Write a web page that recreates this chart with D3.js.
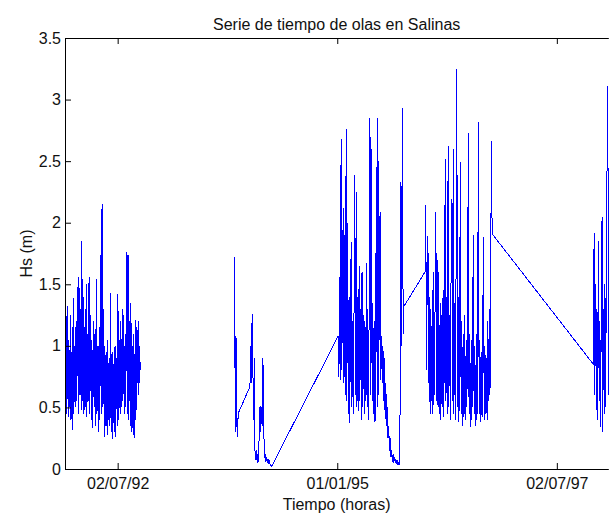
<!DOCTYPE html>
<html>
<head>
<meta charset="utf-8">
<script src="https://cdn.jsdelivr.net/npm/d3@7"></script>
<style>
body { margin: 0; background: #fff; }
svg text { font-family: "Liberation Sans", Arial, Helvetica, sans-serif; }
</style>
</head>
<body>
<div id="chart"></div>
<script>
var width = 609, height = 513;
// note: "top" is taken by window.top, so plot edges get their own names
var plotLeft = 65, plotRight = 608.3, plotTop = 38, plotBottom = 469;

// axis ticks
var tickDates = ["1992-07-02", "1995-01-01", "1997-07-02"];
var yTicks = [0, 0.5, 1, 1.5, 2, 2.5, 3, 3.5];
var xStart = "1991-11-26", xEnd = "1998-02-01";

// wave height blocks: first date, then one Hs value every stepDays
var stepDays = 3;

var seg1Start = "1991-11-27";
var seg1 = [0.80,1.30,0.45,1.32,0.42,1.05,0.50,1.25,0.40,0.95,
  0.32,1.39,0.45,1.00,0.50,1.20,0.55,1.48,0.45,1.56,
  0.60,1.30,0.48,1.85,0.55,1.40,0.45,1.15,0.50,1.50,
  0.42,1.10,0.55,1.56,0.45,1.25,0.40,1.05,0.33,1.20,
  0.50,1.10,0.35,1.54,0.45,1.00,0.30,1.15,0.40,1.74,
  0.45,2.15,0.50,1.30,0.26,1.00,0.35,0.95,0.28,1.05,
  0.40,0.90,0.35,1.43,0.30,0.95,0.24,0.85,0.30,1.00,
  0.26,0.90,0.35,1.42,0.40,1.05,0.45,1.20,0.50,1.30,
  0.55,1.25,0.45,1.10,0.50,1.76,0.45,1.74,0.40,1.20,
  0.35,1.35,0.30,1.00,0.28,1.10,0.25,1.21,0.40,1.15,
  0.70,1.20,0.60,1.00,0.80];

var seg2aStart = "1993-10-31";
var seg2a = [1.72,0.30,1.08,0.40,0.26,0.45];

var seg2bStart = "1994-01-03";
var seg2b = [0.67,1.00,0.70,1.26,0.85,0.40,0.90,0.15,0.07,0.15,
  0.05,0.12,0.06,0.35,0.51,0.30,0.50,0.35,0.90,0.40,
  0.09,0.12,0.06,0.10,0.05,0.08,0.05,0.06,0.04,0.03,0.02];

var seg3Start = "1995-01-05";
var seg3 = [1.08,0.75,1.56,0.72,2.68,0.80,1.60,2.12,0.70,1.90,
  0.60,2.76,0.55,2.00,0.45,1.40,0.37,1.30,1.84,0.50,
  1.20,0.45,1.35,2.39,0.60,2.25,0.50,1.40,0.47,1.65,
  0.55,1.30,0.40,1.60,0.50,1.25,0.45,1.20,0.55,1.67,
  0.50,1.30,0.40,1.45,2.85,0.60,2.60,0.55,1.35,0.45,
  1.20,0.38,1.30,2.45,0.50,2.85,0.60,1.40,2.09,0.72,
  1.08,0.70,1.00,0.55,0.90,0.41,0.70,0.35,0.50,0.25,
  0.35,0.15,0.25,0.10,0.15,0.06,0.12,0.05,0.10,0.05,
  0.08,0.04,0.07,0.03,0.05,0.03,0.64,2.33,1.00,2.93,
  1.10,1.32];

var seg4Start = "1996-01-01";
var seg4 = [1.60,2.14,0.80,1.50,1.89,0.70,1.40,0.45,1.30,0.55,
  1.45,0.45,1.60,0.60,1.40,2.09,0.55,1.70,0.50,1.60,
  0.45,1.35,0.40,1.25,0.50,1.45,0.42,1.30,2.52,0.55,
  1.40,0.45,2.62,0.50,1.25,0.40,1.50,2.19,0.55,2.60,
  0.45,1.35,0.40,1.60,3.25,0.50,1.40,0.38,1.30,2.49,
  0.45,1.20,0.35,1.10,0.42,1.25,0.40,1.05,0.50,1.30,
  2.73,0.45,1.10,0.34,1.05,0.40,1.20,1.90,0.45,1.00,
  0.35,1.10,0.40,1.25,2.82,0.45,1.05,0.38,0.95,0.42,
  1.15,1.88,0.40,1.00,0.45,0.90,0.40,1.20,0.55,1.30,
  0.60,1.60,2.66,1.91];

var seg5Start = "1997-12-01";
var seg5 = [0.85,1.92,0.60,1.50,0.48,1.30,0.40,1.85,0.55,1.20,
  0.34,1.40,2.05,0.30,1.30,0.45,1.50,0.50,1.70,2.51,
  3.11,0.60,1.60,0.50,1.40];

function block(start, values) {
  var t0 = new Date(start + "T00:00:00Z");
  return values.map(function(v, i) {
    return {date: d3.utcDay.offset(t0, i * stepDays), hs: v};
  });
}

// first block stands alone, the rest were joined by straight lines
var pieces = [
  block(seg1Start, seg1),
  [].concat(block(seg2aStart, seg2a), block(seg2bStart, seg2b),
    block(seg3Start, seg3), block(seg4Start, seg4), block(seg5Start, seg5))
];

var svg = d3.select("#chart").append("svg")
    .attr("width", width)
    .attr("height", height);

var x = d3.scaleUtc()
    .domain([new Date(xStart + "T00:00:00Z"), new Date(xEnd + "T00:00:00Z")])
    .range([plotLeft, plotRight]);

var y = d3.scaleLinear()
    .domain([0, 3.5])
    .range([plotBottom, plotTop]);

svg.append("defs").append("clipPath")
    .attr("id", "plot")
  .append("rect")
    .attr("x", plotLeft)
    .attr("y", plotTop)
    .attr("width", width - plotLeft)
    .attr("height", plotBottom - plotTop + 1);

var line = d3.line()
    .x(function(d) { return x(d.date); })
    .y(function(d) { return y(d.hs); });

// aliased like the matlab figure, so the dense part fills solid
svg.append("g")
    .attr("clip-path", "url(#plot)")
  .selectAll("path")
  .data(pieces)
  .enter().append("path")
    .attr("d", line)
    .attr("fill", "none")
    .attr("stroke", "#0000ff")
    .attr("stroke-width", 1)
    .attr("shape-rendering", "crispEdges");

var dates = tickDates.map(function(s) { return new Date(s + "T00:00:00Z"); });

svg.append("g")
    .attr("transform", "translate(0," + plotBottom + ")")
    .call(d3.axisBottom(x).tickValues(dates).tickSize(-6).tickSizeOuter(0)
      .tickPadding(9).tickFormat(d3.utcFormat("%d/%m/%y")));

svg.append("g")
    .attr("transform", "translate(0," + plotTop + ")")
    .call(d3.axisTop(x).tickValues(dates).tickSize(-6).tickSizeOuter(0).tickFormat(""));

svg.append("g")
    .attr("transform", "translate(" + plotLeft + ",0)")
    .call(d3.axisLeft(y).tickValues(yTicks).tickSize(-6).tickSizeOuter(0)
      .tickPadding(4).tickFormat(d3.format("~g")));

svg.selectAll(".tick text")
    .attr("font-size", 16)
    .attr("fill", "#111");
svg.selectAll(".domain, .tick line")
    .attr("stroke", "#000");

var mid = (plotLeft + plotRight) / 2;

svg.append("text")
    .attr("x", mid)
    .attr("y", 30)
    .attr("text-anchor", "middle")
    .attr("font-size", 16)
    .attr("fill", "#111")
    .text("Serie de tiempo de olas en Salinas");

svg.append("text")
    .attr("x", mid)
    .attr("y", 510)
    .attr("text-anchor", "middle")
    .attr("font-size", 16)
    .attr("fill", "#111")
    .text("Tiempo (horas)");

svg.append("text")
    .attr("transform", "translate(32," + (plotTop + plotBottom) / 2 + ") rotate(-90)")
    .attr("text-anchor", "middle")
    .attr("font-size", 16)
    .attr("fill", "#111")
    .text("Hs (m)");
</script>
</body>
</html>
